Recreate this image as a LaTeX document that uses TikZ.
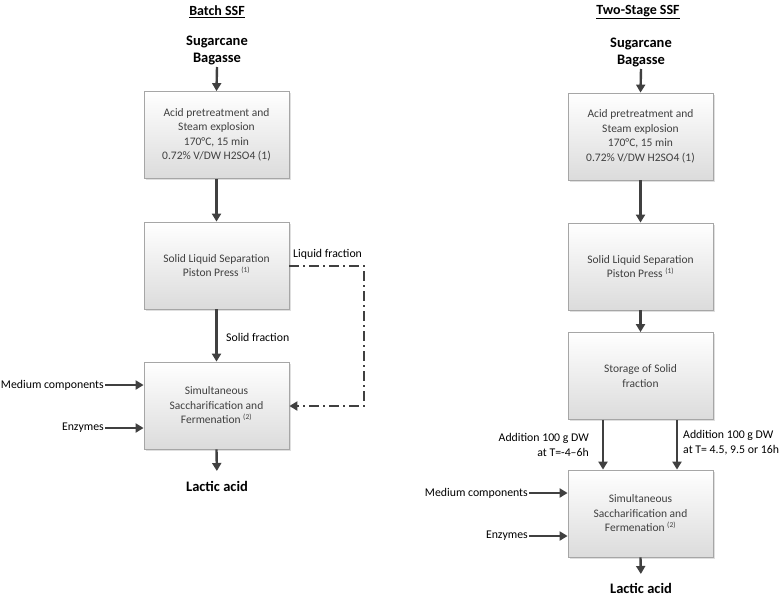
\documentclass[tikz,border=0pt]{standalone}
\usepackage{fontspec}
\setmainfont{Carlito}
\usetikzlibrary{arrows.meta,shadows,calc}
\definecolor{arrc}{HTML}{404040}
\definecolor{boxtxt}{HTML}{404040}
\definecolor{boxedge}{HTML}{A6A6A6}
\newcommand{\fnref}[1]{\textsuperscript{\fontsize{7.5}{8}\selectfont(#1)}}
\tikzset{
  procbox/.style={draw=boxedge, line width=0.8pt, top color=white, bottom color=black!14,
    minimum width=145pt, minimum height=87pt, align=center, text=boxtxt,
    font=\fontsize{11.5}{14.5}\selectfont, inner sep=2pt,
    drop shadow={shadow xshift=1.5pt, shadow yshift=-1.5pt, opacity=0.25}},
  arr/.style={draw=arrc, line width=2.4pt, -{Triangle[length=8pt,width=9pt]}},
  dasharr/.style={draw=arrc, line width=2pt, dash pattern=on 10pt off 4pt on 2pt off 4pt,
    -{Triangle[length=8pt,width=9pt]}},
  feed/.style={font=\fontsize{14.5}{17}\selectfont\bfseries, align=center, inner sep=2pt},
  title/.style={font=\fontsize{14}{16}\selectfont\bfseries},
  lbl/.style={font=\fontsize{11.8}{15}\selectfont, inner sep=1pt}
}
\begin{document}
\begin{tikzpicture}[x=1pt,y=-1pt]
\useasboundingbox (0,0) rectangle (784,598);
% ---------- Batch SSF ----------
\node[title] (tL) at (217,12) {\underline{Batch SSF}};
\node[feed, anchor=south] (sL) at (217,67) {Sugarcane\\Bagasse};
\node[procbox] (b1L) at (216.5,135) {Acid pretreatment and\\Steam explosion\\170°C, 15 min\\0.72\% V/DW H2SO4 (1)};
\node[procbox] (b2L) at (216.5,265.5) {Solid Liquid Separation\\Piston Press \fnref{1}};
\node[procbox] (b3L) at (216.5,405.5) {Simultaneous\\Saccharification and\\Fermenation \fnref{2}};
\node[feed, anchor=north] (lL) at (217,479) {Lactic acid};
\node[lbl, anchor=east] (mL) at (105,385) {Medium components};
\node[lbl, anchor=east] (eL) at (105,428) {Enzymes};
\node[lbl, anchor=west] (sfL) at (225,337) {Solid fraction};
\node[lbl, anchor=west] (lfL) at (292,254) {Liquid fraction};
\coordinate (c1) at (364,266);
\coordinate (c2) at (364,406);
\draw[arr] (sL.south) -- (b1L.north);
\draw[arr] (b1L.south) -- (b2L.north);
\draw[arr] (b2L.south) -- (b3L.north);
\draw[arr, shorten >=8pt] (b3L.south) -- (lL.north);
\draw[arr] (mL.east) -- (mL.east -| b3L.west);
\draw[arr] (eL.east) -- (eL.east -| b3L.west);
\draw[dasharr] (b2L.east |- c1) -- (c1) -- (c2) -- (c2 -| b3L.east);
% ---------- Two-Stage SSF ----------
\node[title] (tR) at (638,12) {\underline{Two-Stage SSF}};
\node[feed, anchor=south] (sR) at (641,69) {Sugarcane\\Bagasse};
\node[procbox] (b1R) at (640.5,136.5) {Acid pretreatment and\\Steam explosion\\170°C, 15 min\\0.72\% V/DW H2SO4 (1)};
\node[procbox] (b2R) at (640.5,266.5) {Solid Liquid Separation\\Piston Press \fnref{1}};
\node[procbox] (b3R) at (640.5,376) {Storage of Solid\\fraction};
\node[procbox] (b4R) at (640.5,513.5) {Simultaneous\\Saccharification and\\Fermenation \fnref{2}};
\node[feed, anchor=north] (lR) at (641,581) {Lactic acid};
\node[lbl, anchor=east] (mR) at (529,493) {Medium components};
\node[lbl, anchor=east] (eR) at (529,536) {Enzymes};
\node[lbl, anchor=east, align=right] (aL) at (590,445) {Addition 100 g DW\\at T=-4–6h};
\node[lbl, anchor=west, align=left] (aR) at (682,443) {Addition 100 g DW\\ at T= 4.5, 9.5 or 16h};
\draw[arr] (sR.south) -- (b1R.north);
\draw[arr] (b1R.south) -- (b2R.north);
\draw[arr] (b2R.south) -- (b3R.north);
\draw[arr] ([xshift=-37.5pt]b3R.south) -- ([xshift=-37.5pt]b4R.north);
\draw[arr] ([xshift=36.5pt]b3R.south) -- ([xshift=36.5pt]b4R.north);
\draw[arr, shorten >=7pt] (b4R.south) -- (lR.north);
\draw[arr] (mR.east) -- (mR.east -| b4R.west);
\draw[arr] (eR.east) -- (eR.east -| b4R.west);
\end{tikzpicture}
\end{document}
